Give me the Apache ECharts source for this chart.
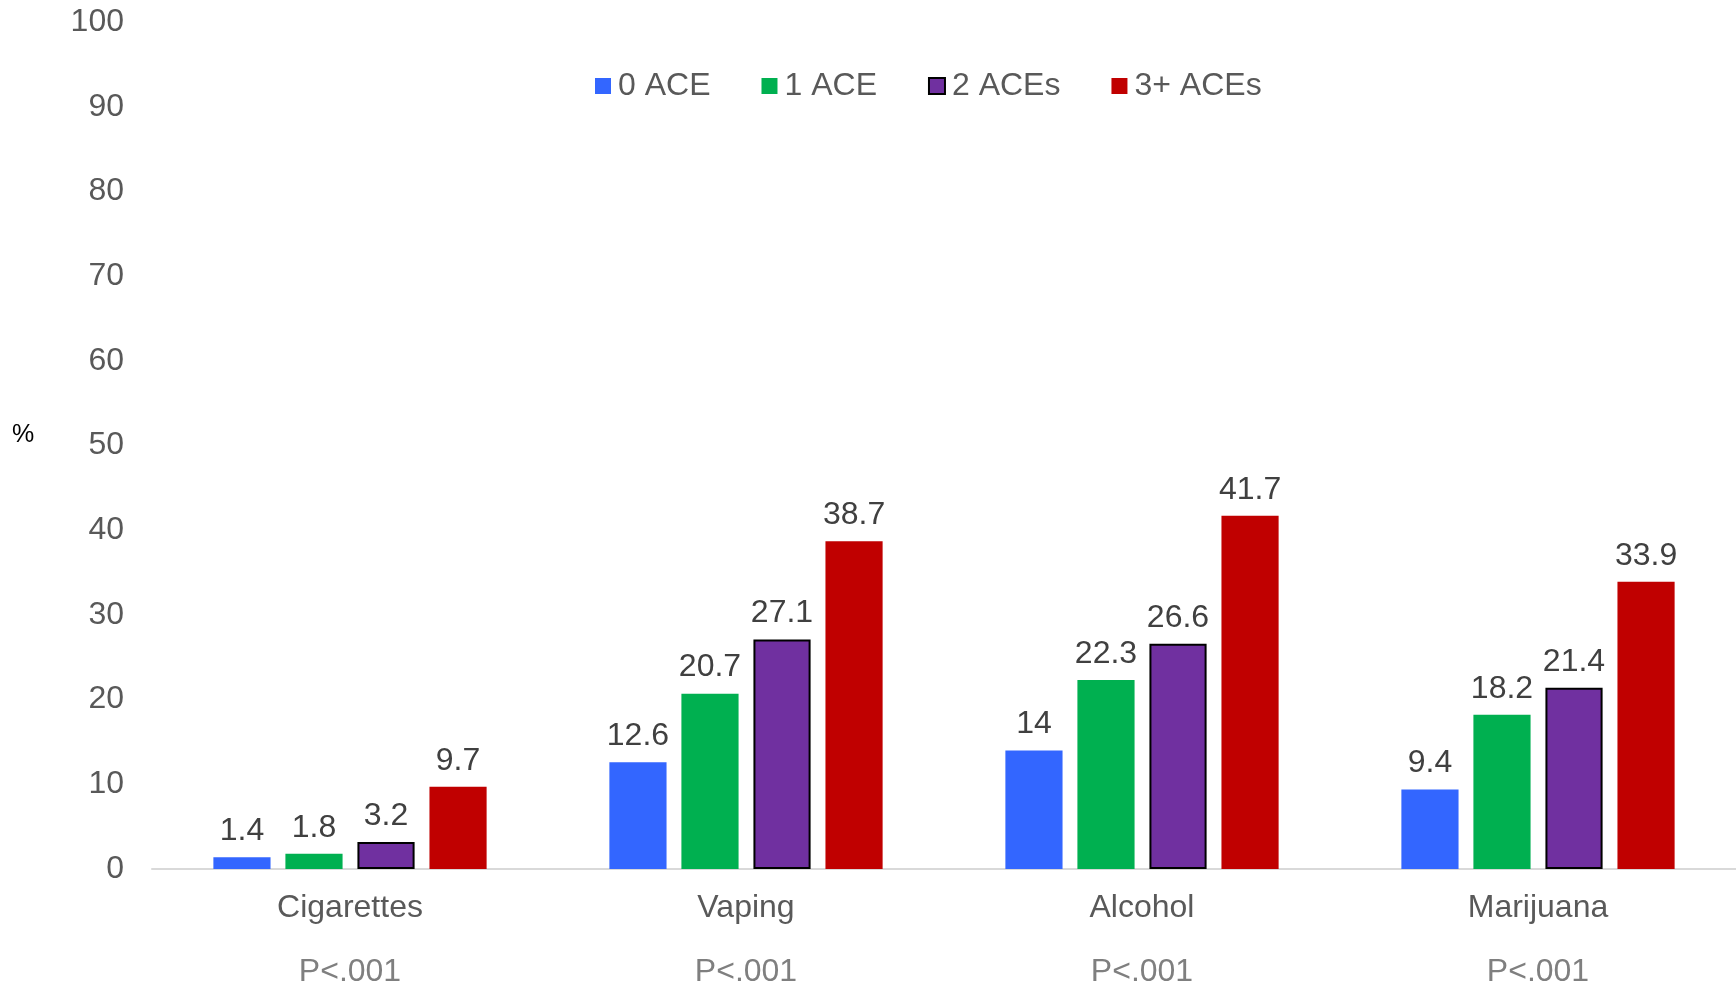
<!DOCTYPE html>
<html>
<head>
<meta charset="utf-8">
<script src="https://cdn.jsdelivr.net/npm/echarts@6/dist/echarts.min.js"></script>
<style>
  html, body { margin: 0; padding: 0; background: #fff; }
  #chart { width: 1736px; height: 988px; }
</style>
</head>
<body>
<div id="chart"></div>
<script>
// Substance use by number of adverse childhood experiences (ACEs)
const categories = ['Cigarettes', 'Vaping', 'Alcohol', 'Marijuana'];
const pValues = ['P<.001', 'P<.001', 'P<.001', 'P<.001'];
const seriesNames = ['0 ACE', '1 ACE', '2 ACEs', '3+ ACEs'];
const ace0 = [1.4, 12.6, 14, 9.4];
const ace1 = [1.8, 20.7, 22.3, 18.2];
const ace2 = [3.2, 27.1, 26.6, 21.4];
const ace3plus = [9.7, 38.7, 41.7, 33.9];
const yTicks = [0, 10, 20, 30, 40, 50, 60, 70, 80, 90, 100];

const FONT = '"Liberation Sans", Arial, sans-serif';
const colors = ['#3366FF', '#00B050', '#7030A0', '#C00000'];
const seriesData = [ace0, ace1, ace2, ace3plus];

const chart = echarts.init(document.getElementById('chart'));

const series = seriesData.map((data, i) => ({
  name: seriesNames[i],
  type: 'bar',
  data: data,
  barCategoryGap: '31%',
  barGap: '26%',
  itemStyle: i === 2
    ? { color: colors[i], borderColor: '#000', borderWidth: 2 }
    : { color: colors[i] },
  label: {
    show: true,
    position: 'top',
    distance: 10,
    color: '#404040',
    fontSize: 32,
    fontFamily: FONT
  }
}));

chart.setOption({
  animation: false,
  backgroundColor: '#fff',
  textStyle: { fontFamily: FONT },
  legend: {
    data: seriesNames,
    left: 590,
    top: 65,
    itemWidth: 16,
    itemHeight: 16,
    itemGap: 51,
    icon: 'rect',
    textStyle: { fontSize: 32, color: '#595959', fontFamily: FONT, padding: [0, 0, 0, 2] }
  },
  grid: { left: 152, right: 0, top: 22, bottom: 118, containLabel: false },
  graphic: [{
    type: 'text',
    left: 12,
    top: 423,
    style: { text: '%', fontSize: 25, fill: '#000', fontFamily: FONT }
  }],
  xAxis: {
    type: 'category',
    data: categories,
    axisLine: { show: true, lineStyle: { color: '#D9D9D9', width: 2 } },
    axisTick: { show: false },
    axisLabel: {
      margin: 7,
      formatter: (v, idx) => '{a|' + v + '}\n{b|' + pValues[idx] + '}',
      rich: {
        a: { fontSize: 32, color: '#595959', lineHeight: 64, fontFamily: FONT },
        b: { fontSize: 32, color: '#7F7F7F', lineHeight: 64, fontFamily: FONT }
      }
    }
  },
  yAxis: {
    type: 'value',
    min: yTicks[0],
    max: yTicks[yTicks.length - 1],
    interval: 10,
    axisLine: { show: false },
    axisTick: { show: false },
    splitLine: { show: false },
    axisLabel: { margin: 28, fontSize: 32, color: '#595959', fontFamily: FONT }
  },
  series: series
});
</script>
</body>
</html>
